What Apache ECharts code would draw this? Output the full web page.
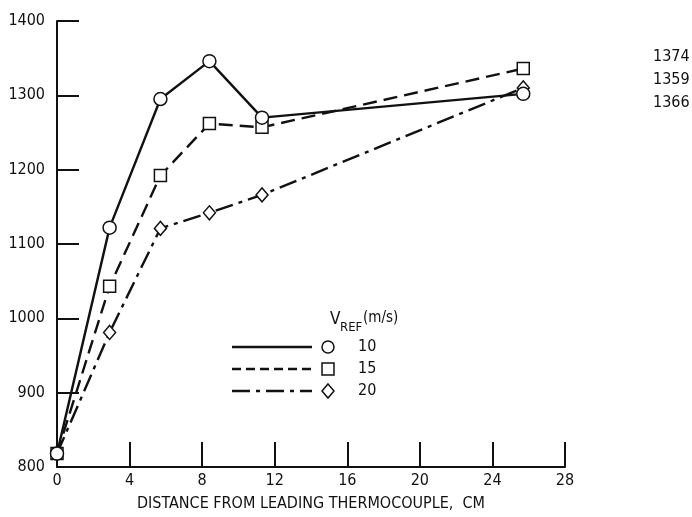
<!DOCTYPE html>
<html>
<head>
<meta charset="utf-8">
<script src="https://cdn.jsdelivr.net/npm/echarts@6/dist/echarts.min.js"></script>
<style>
  html, body { margin: 0; padding: 0; background: #fff; }
  #chart { width: 692px; height: 517px; }
</style>
</head>
<body>
<div id="chart"></div>
<script>
// Temperature rise along the plate at three reference velocities
const distanceCm = [0, 2.9, 5.7, 8.4, 11.3, 25.7];
const temp10 = [818, 1122, 1295, 1346, 1270, 1302];
const temp15 = [818, 1043, 1192, 1262, 1257, 1336];
const temp20 = [818, 981, 1121, 1142, 1166, 1310];
const speeds = ['10', '15', '20'];
const endNotes = ['1374', '1359', '1366'];
const xTicks = [0, 4, 8, 12, 16, 20, 24, 28];
const yTicks = [800, 900, 1000, 1100, 1200, 1300, 1400];

const FONT = "'Liberation Sans Narrow', 'DejaVu Sans Condensed', sans-serif";
const INK = '#111';

const chart = echarts.init(document.getElementById('chart'));

function pairs(ys) {
  return distanceCm.map((x, i) => [x, ys[i]]);
}

const seriesDefs = [
  { name: speeds[0], data: temp10, symbol: 'circle', size: 13, dash: 'solid' },
  { name: speeds[1], data: temp15, symbol: 'rect', size: 12, dash: [14, 7] },
  { name: speeds[2], data: temp20, symbol: 'diamond', size: [12, 14], dash: [18, 6, 4, 6] }
];

// legend drawn as graphics: line sample, marker, velocity label
const legendX = 232, legendW = 80, markerX = 328, labelX = 358;
const rowY = [347, 369, 391];
const legendGraphics = [];
seriesDefs.forEach((s, i) => {
  const y = rowY[i];
  legendGraphics.push({
    type: 'line',
    shape: { x1: legendX, y1: y, x2: legendX + legendW, y2: y },
    style: { stroke: INK, lineWidth: 2.4, lineDash: s.dash === 'solid' ? null : (i === 1 ? [9, 5] : s.dash) }
  });
  let mark;
  if (s.symbol === 'circle') {
    mark = { type: 'circle', shape: { cx: markerX, cy: y, r: 6 } };
  } else if (s.symbol === 'rect') {
    mark = { type: 'rect', shape: { x: markerX - 6, y: y - 6, width: 12, height: 12 } };
  } else {
    mark = { type: 'polygon', shape: { points: [[markerX, y - 7], [markerX + 6, y], [markerX, y + 7], [markerX - 6, y]] } };
  }
  mark.style = { fill: '#fff', stroke: INK, lineWidth: 1.5 };
  legendGraphics.push(mark);
  legendGraphics.push({
    type: 'text', x: labelX, y: y,
    style: { text: s.name, fill: INK, font: '16px ' + FONT, textVerticalAlign: 'middle' }
  });
});
legendGraphics.push(
  { type: 'text', x: 330, y: 320, style: { text: 'V', fill: INK, font: '17px ' + FONT, textVerticalAlign: 'middle' } },
  { type: 'text', x: 340, y: 328, style: { text: 'REF', fill: INK, font: '13px ' + FONT, textVerticalAlign: 'middle' } },
  { type: 'text', x: 363, y: 318, style: { text: '(m/s)', fill: INK, font: '15px ' + FONT, textVerticalAlign: 'middle' } }
);
endNotes.forEach((t, i) => {
  legendGraphics.push({
    type: 'text', x: 653, y: 57 + i * 23,
    style: { text: t, fill: INK, font: '16px ' + FONT, textVerticalAlign: 'middle' }
  });
});

chart.setOption({
  animation: false,
  backgroundColor: '#fff',
  grid: { left: 57, top: 21, right: 127, bottom: 49, containLabel: false },
  xAxis: {
    type: 'value', min: xTicks[0], max: xTicks[xTicks.length - 1], interval: 4,
    name: 'DISTANCE FROM LEADING THERMOCOUPLE,  CM',
    nameLocation: 'middle', nameGap: 29,
    nameTextStyle: { fontFamily: FONT, fontSize: 16, color: INK },
    axisLine: { lineStyle: { color: INK, width: 2 } },
    axisTick: { inside: true, length: 25, lineStyle: { color: INK, width: 2 } },
    axisLabel: { fontFamily: FONT, fontSize: 16, color: INK, margin: 6 },
    splitLine: { show: false }
  },
  yAxis: {
    type: 'value', min: yTicks[0], max: yTicks[yTicks.length - 1], interval: 100,
    axisLine: { show: true, lineStyle: { color: INK, width: 2 } },
    axisTick: { show: true, inside: true, length: 22, lineStyle: { color: INK, width: 2 } },
    axisLabel: { fontFamily: FONT, fontSize: 16, color: INK, margin: 12, formatter: v => String(v) },
    splitLine: { show: false }
  },
  series: seriesDefs.map((s, i) => ({
    type: 'line',
    name: s.name,
    data: pairs(s.data),
    symbol: s.symbol,
    symbolSize: s.size,
    showAllSymbol: true,
    z: 3 - i,
    lineStyle: { color: INK, width: 2.4, type: s.dash },
    itemStyle: { color: '#fff', borderColor: INK, borderWidth: 1.5 }
  })),
  graphic: legendGraphics
});
</script>
</body>
</html>
